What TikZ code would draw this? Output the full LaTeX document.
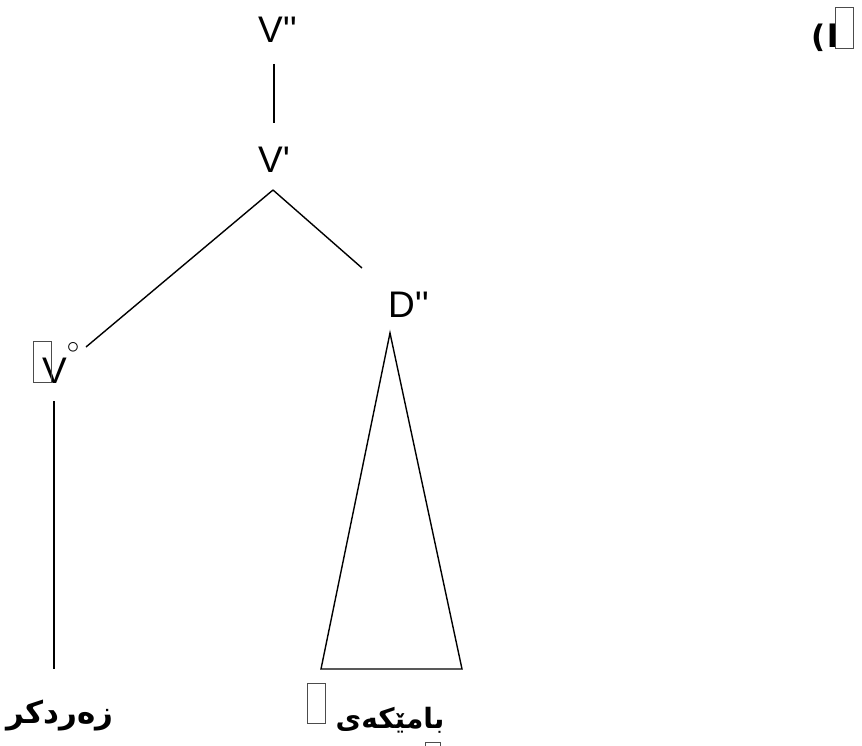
\documentclass[tikz,border=0pt]{standalone}
\usepackage{fontspec}
\usetikzlibrary{calc}
\TeXXeTstate=1
\newfontfamily\latfont{Liberation Sans}
\newfontfamily\plainfont{DejaVu Sans}
\newfontfamily\arabicfont[Script=Arabic]{DejaVu Sans}
\begin{document}
\begin{tikzpicture}[x=1pt,y=-1pt,
  lbl/.style={inner sep=0pt, anchor=base west, font=\latfont\fontsize{37}{40}\selectfont},
  arlbl/.style={inner sep=0pt, anchor=center, font=\arabicfont\bfseries\fontsize{31}{36}\selectfont},
  tree/.style={line width=1.4pt, black},
  tofu/.style={draw=black!70, line width=0.9pt}]
\useasboundingbox (0,0) rectangle (862,746);
% labels
\node[lbl] (vpp) at (258,43) {V\char39\char39};
\node[lbl] (vp) at (258,173) {V\char39};
\node[lbl] (dpp) at (388,317) {D\char39\char39};
\node[lbl] (v0) at (42,383) {V\raisebox{30pt}{\fontsize{24}{24}\selectfont$\circ$}};
\node[arlbl] (w1) at (60,716) {\beginR زەردکر\endR};
\node[arlbl, font=\arabicfont\bfseries\fontsize{28}{34}\selectfont] (w2) at (390,720) {\beginR بامێکەی\endR};
\node[arlbl] (num) at (825,38) {{\plainfont\bfseries (}\kern2pt ا};
% missing-glyph boxes
\draw[tofu] (33,341) rectangle (51,382);
\draw[tofu] (307,683) rectangle (325,723);
\draw[tofu] (835,7) rectangle (853,48);
\draw[tofu] (425,742) rectangle (440,770);
% connectors
\draw[tree] ($(vpp.base west)+(16,21)$) -- ($(vp.base west)+(16,-50)$);
\draw[tree] ($(vp.base west)+(15,17)$) -- ($(v0.base west)+(44,-36)$);
\draw[tree] ($(vp.base west)+(15,17)$) -- ($(dpp.base west)+(-26,-49)$);
\draw[tree] ($(v0.base west)+(12,18)$) -- ($(w1.north)+(-6,-31)$);
\draw[tree] ($(dpp.base west)+(2,16)$) -- ($(dpp.base west)+(-67,352)$) -- ($(dpp.base west)+(74,352)$) -- cycle;
\end{tikzpicture}
\end{document}
